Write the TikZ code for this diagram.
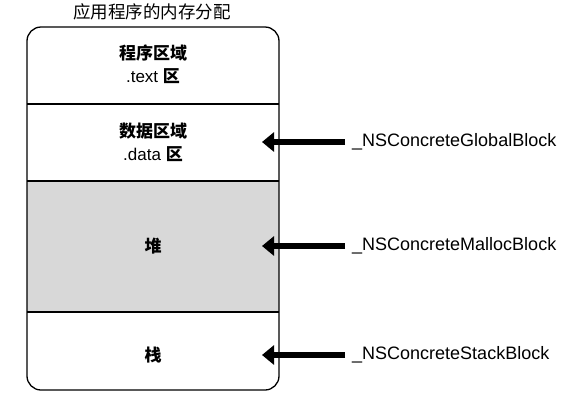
\documentclass[tikz,border=0pt]{standalone}
\usepackage{fontspec}
\setmainfont{Liberation Sans}
\newfontfamily\cjk{Noto Sans CJK SC}
\usetikzlibrary{arrows.meta}
\definecolor{heapgray}{RGB}{216,216,216}
\begin{document}
\begin{tikzpicture}[x=1pt,y=-1pt,
  boxlabel/.style={font=\fontsize{17}{23}\selectfont, align=center},
  sidelabel/.style={font=\fontsize{18}{20}\selectfont, anchor=west, inner sep=0pt},
  bigarrow/.style={line width=6.5pt, -{Triangle[length=12pt,width=19pt]}},
  divider/.style={line width=1.2pt}]
\useasboundingbox (0,0) rectangle (571,405);
% heap fill
\fill[heapgray] (27,181) rectangle (279,312);
% outer rounded box
\draw[line width=1.3pt, rounded corners=14pt] (27,27) rectangle (279,390);
\draw[divider] (27,104) -- (279,104);
\draw[divider] (27,181) -- (279,181);
\draw[divider] (27,312) -- (279,312);
% title
\node (title) at (152,12) {\cjk\fontsize{17.5}{20}\selectfont 应用程序的内存分配};
% region labels
\node[boxlabel] (text) at (153,64) {{\cjk\bfseries 程序区域}\\.text {\cjk\bfseries 区}};
\node[boxlabel] (data) at (153,142) {{\cjk\bfseries 数据区域}\\.data {\cjk\bfseries 区}};
\node[boxlabel] (heap) at (153,246) {\cjk\bfseries 堆};
\node[boxlabel] (stack) at (153,355) {\cjk\bfseries 栈};
% side labels
\node[sidelabel] (gl) at (352,142) {\_NSConcreteGlobalBlock};
\node[sidelabel] (ml) at (352,246) {\_NSConcreteMallocBlock};
\node[sidelabel] (sl) at (352,355) {\_NSConcreteStackBlock};
\coordinate (gt) at (262,142);
\coordinate (mt) at (262,246);
\coordinate (st) at (262,355);
\draw[bigarrow] (gl.west) ++(-7,0) -- (gt);
\draw[bigarrow] (ml.west) ++(-7,0) -- (mt);
\draw[bigarrow] (sl.west) ++(-7,0) -- (st);
\end{tikzpicture}
\end{document}
